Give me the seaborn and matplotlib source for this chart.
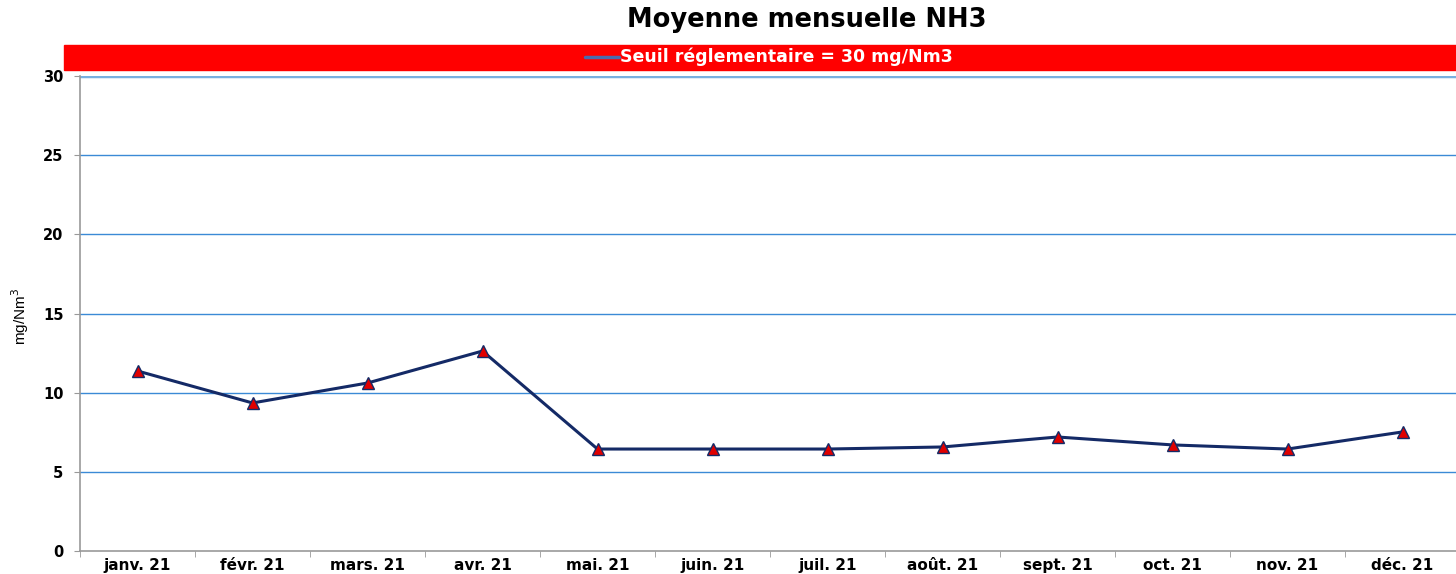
import numpy as np
import pandas as pd
import matplotlib
matplotlib.use('Agg')
import matplotlib.pyplot as plt
import seaborn as sns

# Monthly averages
mois = ['janv. 21', 'févr. 21', 'mars. 21', 'avr. 21', 'mai. 21', 'juin. 21',
        'juil. 21', 'août. 21', 'sept. 21', 'oct. 21', 'nov. 21', 'déc. 21']
nh3 = [11.37, 9.35, 10.61, 12.63, 6.44, 6.44, 6.44, 6.57, 7.2, 6.7, 6.44, 7.52]
seuil = 30
seuil_label = 'Seuil réglementaire = 30 mg/Nm3'
yticks = [0, 5, 10, 15, 20, 25, 30]

df = pd.DataFrame({'mois': mois, 'nh3': nh3, 'pos': np.arange(len(mois))})

sns.set_style('white')
plt.rcParams['font.family'] = ['DejaVu Sans']
plt.rcParams['text.color'] = 'black'
plt.rcParams['xtick.color'] = '#999999'
plt.rcParams['ytick.color'] = '#999999'
plt.rcParams['xtick.labelcolor'] = 'black'
plt.rcParams['ytick.labelcolor'] = 'black'

fig = plt.figure(figsize=(14.56, 5.74), dpi=100)
W, H = 1456, 574
ax = fig.add_axes([80 / W, 1 - 551 / H, 1380 / W, (551 - 76) / H])

# horizontal grid
for y in yticks[1:-1]:
    ax.axhline(y, color='#3b8ad6', lw=1.0, zorder=1)
# regulatory threshold line
ax.axhline(seuil, color='#78b0e0', lw=2.5, zorder=2)

sns.lineplot(data=df, x='pos', y='nh3', ax=ax, color='#142a66', lw=2.2,
             marker='^', markersize=8, markerfacecolor='#e00000',
             markeredgecolor='#142a66', markeredgewidth=1.0, zorder=3)

ax.set_xlim(-0.5, len(mois) - 0.5)
ax.set_ylim(0, 30)
ax.set_yticks(yticks)
ax.set_yticklabels([str(v) for v in yticks], fontweight='bold', fontsize=10.5)
ax.set_xticks(np.arange(len(mois)))
ax.set_xticklabels(mois, fontweight='bold', fontsize=11)
ax.set_xticks(np.arange(len(mois) + 1) - 0.5, minor=True)
ax.tick_params(axis='x', which='major', length=0, pad=5)
ax.tick_params(axis='x', which='minor', length=4, direction='out')
ax.tick_params(axis='y', length=4, direction='out', pad=8)
ax.xaxis.set_tick_params(bottom=True, which='minor')
ax.yaxis.set_tick_params(left=True)

ax.set_xlabel('')
ax.set_ylabel('')
fig.text(20 / W, 1 - 316 / H, 'mg/Nm$^3$', rotation=90, ha='center', va='center',
         fontsize=11, family='Liberation Sans')
for s in ['top', 'right']:
    ax.spines[s].set_visible(False)
ax.spines['left'].set_color('#999999')
ax.spines['bottom'].set_color('#999999')
ax.spines['left'].set_linewidth(1.2)
ax.spines['bottom'].set_linewidth(1.2)

# title
fig.text(807 / W, 1 - 20 / H, 'Moyenne mensuelle NH3', ha='center', va='center',
         fontsize=18.5, fontweight='bold')

# red legend band
band = plt.Rectangle((64 / W, 1 - 70 / H), 1 - 64 / W, 25 / H,
                     transform=fig.transFigure, color='#ff0000', zorder=5)
fig.add_artist(band)
fig.add_artist(plt.Line2D([585 / W, 619 / W], [1 - 57 / H, 1 - 57 / H],
                          transform=fig.transFigure, color='#4a6cae', lw=2.5, zorder=6))
fig.text(620 / W, 1 - 57 / H, seuil_label, ha='left', va='center',
         color='white', fontsize=12.5, fontweight='bold', zorder=6)

fig.savefig('out.png', dpi=100)
